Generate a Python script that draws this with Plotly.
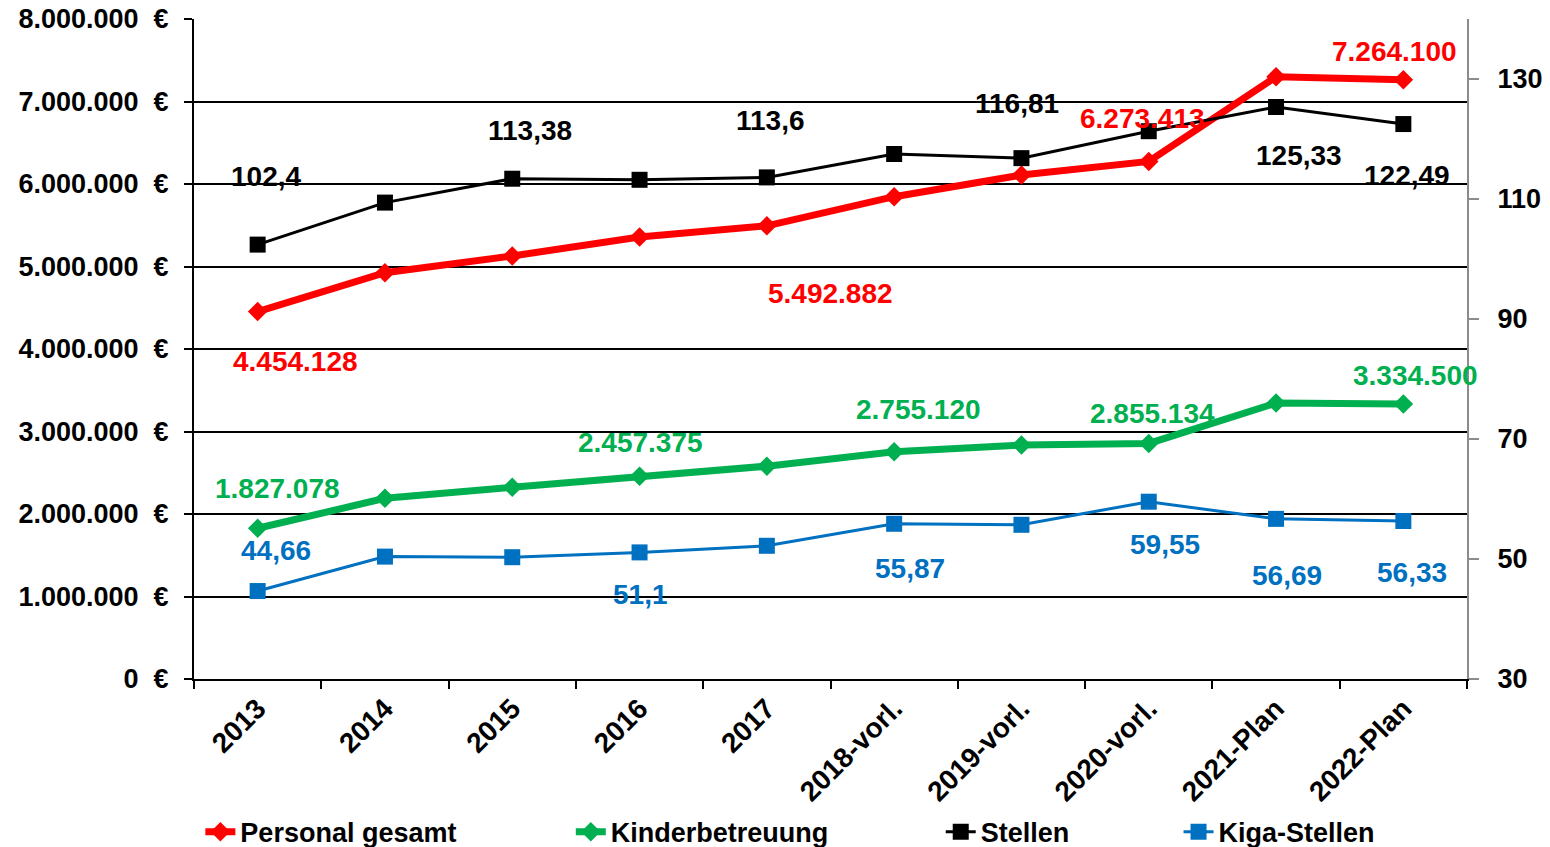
import plotly.graph_objects as go

# ---- data ----
years = ["2013", "2014", "2015", "2016", "2017", "2018-vorl.", "2019-vorl.",
         "2020-vorl.", "2021-Plan", "2022-Plan"]
personal_gesamt = [4454128, 4925000, 5127000, 5358000, 5492882, 5846000,
                   6109000, 6273413, 7300000, 7264100]
kinderbetreuung = [1827078, 2190000, 2324000, 2457375, 2580000, 2755120,
                   2836000, 2855134, 3345000, 3334500]
stellen = [102.4, 109.4, 113.38, 113.2, 113.6, 117.5, 116.81, 121.3, 125.33, 122.49]
kiga_stellen = [44.66, 50.4, 50.3, 51.1, 52.2, 55.87, 55.7, 59.55, 56.69, 56.33]

left_ticks = [0, 1000000, 2000000, 3000000, 4000000, 5000000, 6000000, 7000000, 8000000]
right_ticks = [30, 50, 70, 90, 110, 130]

# ---- styling ----
FONT = "Liberation Sans, Arial, sans-serif"
RED = "#FF0000"
GREEN = "#00B050"
BLACK = "#000000"
BLUE = "#0070C0"
GRAY = "#8C8C8C"
FS_LABEL = 28
FS_TICK = 28
FS_YTICK = 27
FS_LEG = 27

def fmt_eur(v):
    return f"{v:,.0f}".replace(",", ".")

def fmt_dec(v):
    return f"{v:g}".replace(".", ",")

fig = go.Figure()

fig.add_trace(go.Scatter(
    x=years, y=personal_gesamt, name="Personal gesamt", mode="lines+markers",
    line=dict(color=RED, width=7), marker=dict(symbol="diamond", size=15, color=RED),
    yaxis="y", legend="legend"))
fig.add_trace(go.Scatter(
    x=years, y=kinderbetreuung, name="Kinderbetreuung", mode="lines+markers",
    line=dict(color=GREEN, width=7), marker=dict(symbol="diamond", size=15, color=GREEN),
    yaxis="y", legend="legend2"))
fig.add_trace(go.Scatter(
    x=years, y=stellen, name="Stellen", mode="lines+markers",
    line=dict(color=BLACK, width=3), marker=dict(symbol="square", size=16, color=BLACK),
    yaxis="y2", legend="legend3"))
fig.add_trace(go.Scatter(
    x=years, y=kiga_stellen, name="Kiga-Stellen", mode="lines+markers",
    line=dict(color=BLUE, width=3), marker=dict(symbol="square", size=16, color=BLUE),
    yaxis="y2", legend="legend4"))

# data labels: (category index, xshift, yshift) per series
label_specs = [
    (personal_gesamt, "y", RED, fmt_eur,
     [(0, 38, -50), (4, 64, -68), (7, -6, 43), (9, -9, 28)]),
    (kinderbetreuung, "y", GREEN, fmt_eur,
     [(0, 20, 40), (3, 1, 34), (5, 24, 42), (7, 4, 30), (9, 12, 28)]),
    (stellen, "y2", BLACK, fmt_dec,
     [(0, 8, 68), (2, 18, 48), (4, 4, 57), (6, -4, 55), (8, 23, -48), (9, 4, -51)]),
    (kiga_stellen, "y2", BLUE, fmt_dec,
     [(0, 18, 41), (3, 1, -42), (5, 16, -45), (7, 16, -43), (8, 11, -57), (9, 9, -51)]),
]
for values, yref, color, fmt, specs in label_specs:
    for i, xs, ys in specs:
        fig.add_annotation(
            x=i, y=values[i], xref="x", yref=yref, text=fmt(values[i]),
            showarrow=False, xshift=xs, yshift=ys,
            font=dict(family=FONT, size=FS_LABEL, color=color, weight="bold"))

legend_common = dict(orientation="h", y=-0.232, yanchor="middle", xanchor="left",
                     bgcolor="rgba(0,0,0,0)",
                     font=dict(family=FONT, size=FS_LEG, color=BLACK, weight="bold"))

fig.update_layout(
    width=1550, height=847,
    margin=dict(l=194, r=83, t=19, b=168, autoexpand=False),
    paper_bgcolor="white", plot_bgcolor="white",
    font=dict(family=FONT, size=FS_TICK, color=BLACK, weight="bold"),
    showlegend=True,
    legend=dict(x=0.005, **legend_common),
    legend2=dict(x=0.296, **legend_common),
    legend3=dict(x=0.5866, **legend_common),
    legend4=dict(x=0.7734, **legend_common),
    xaxis=dict(
        type="category", range=[-0.5, 9.5], tickangle=-45, automargin=False,
        ticks="outside", tickson="boundaries", ticklen=8, tickwidth=2, tickcolor=BLACK,
        showline=True, linecolor=BLACK, linewidth=2, showgrid=False,
        ticklabeloverflow="allow",
        tickfont=dict(family=FONT, size=FS_TICK, color=BLACK, weight="bold")),
    yaxis=dict(
        range=[0, 8000000], tickvals=left_ticks, automargin=False,
        ticktext=[fmt_eur(v) + "\u00a0\u00a0€" for v in left_ticks],
        showgrid=True, gridcolor=BLACK, gridwidth=2, zeroline=False,
        ticks="outside", ticklen=8, tickwidth=2, tickcolor=BLACK,
        showline=True, linecolor=BLACK, linewidth=2, ticklabelstandoff=10,
        ticklabeloverflow="allow",
        tickfont=dict(family=FONT, size=FS_YTICK, color=BLACK, weight="bold")),
    yaxis2=dict(
        overlaying="y", side="right", range=[30, 140], tickvals=right_ticks,
        ticktext=[str(v) for v in right_ticks], automargin=False,
        showgrid=False, zeroline=False,
        ticks="outside", ticklen=10, tickwidth=2, tickcolor=GRAY,
        showline=True, linecolor=GRAY, linewidth=2, ticklabelstandoff=13,
        ticklabeloverflow="allow",
        tickfont=dict(family=FONT, size=FS_YTICK, color=BLACK, weight="bold")),
)

# remove the default 8px page margin so the figure sits at the window origin
fig.write_html("out.html", config={"displayModeBar": False},
               post_script="document.body.style.margin='0';document.body.style.overflow='hidden';")
